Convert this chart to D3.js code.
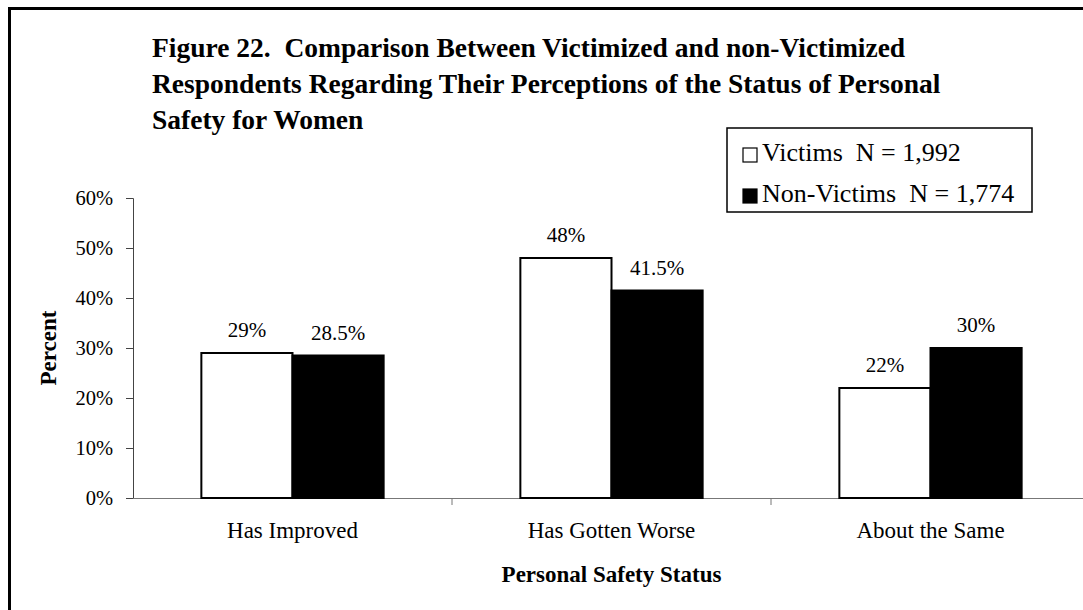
<!DOCTYPE html>
<html>
<head>
<meta charset="utf-8">
<script src="https://cdn.jsdelivr.net/npm/d3@7"></script>
<style>
  body { margin: 0; background: #fff; }
  svg text { font-family: "Liberation Serif", "Times New Roman", serif; fill: #000; white-space: pre; }
</style>
</head>
<body>
<div id="d3-container"></div>
<script>
/* CONSTANTS AND GLOBALS */
const width = 1083,
  height = 610,
  margin = { top: 198, bottom: 112, left: 133, right: -7 };

// data
const categories = ["Has Improved", "Has Gotten Worse", "About the Same"];
const seriesNames = ["Victims", "Non-Victims"];
const legendLabels = ["Victims  N = 1,992", "Non-Victims  N = 1,774"];
const victims = [29, 48, 22];
const nonVictims = [28.5, 41.5, 30];
const valueLabels = [["29%", "48%", "22%"], ["28.5%", "41.5%", "30%"]];
const yTicks = [0, 10, 20, 30, 40, 50, 60];
const titleLines = [
  "Figure 22.  Comparison Between Victimized and non-Victimized",
  "Respondents Regarding Their Perceptions of the Status of Personal",
  "Safety for Women"
];

const fills = ["#fff", "#000"];

let svg, xScale, xInner, yScale;

function init() {
  svg = d3.select("#d3-container")
    .append("svg")
    .attr("width", width)
    .attr("height", height);

  // frame (only top and left edges show)
  svg.append("rect")
    .attr("x", 9.5).attr("y", 8.5)
    .attr("width", width + 20).attr("height", height + 20)
    .attr("fill", "none").attr("stroke", "#000").attr("stroke-width", 3);

  // + SCALES
  xScale = d3.scaleBand()
    .domain(categories)
    .range([margin.left, width - margin.right])
    .padding(0);

  xInner = d3.scaleBand()
    .domain(seriesNames)
    .range([0, xScale.bandwidth()])
    .paddingInner(0)
    .paddingOuter(0.75);

  yScale = d3.scaleLinear()
    .domain([0, 60])
    .range([height - margin.bottom, margin.top]);

  // + TITLE
  svg.append("g")
    .selectAll("text")
    .data(titleLines)
    .join("text")
    .attr("x", 152)
    .attr("y", (d, i) => 57 + i * 36)
    .attr("font-size", 27.5)
    .attr("font-weight", "bold")
    .text(d => d);

  // + AXES
  const yAxis = d3.axisLeft(yScale)
    .tickValues(yTicks)
    .tickSize(7)
    .tickPadding(13)
    .tickFormat(d => d + "%");

  const yG = svg.append("g")
    .attr("transform", `translate(${margin.left},0)`)
    .call(yAxis);
  yG.select(".domain").attr("stroke", "#444");
  yG.selectAll(".tick line").attr("stroke", "#444");
  yG.selectAll(".tick text")
    .attr("font-size", 20.5)
    .attr("font-family", "Liberation Serif, serif");

  const xAxis = d3.axisBottom(xScale)
    .tickValues([])
    .tickSizeOuter(0);

  const xG = svg.append("g")
    .attr("transform", `translate(0,${yScale(0)})`)
    .call(xAxis);
  xG.select(".domain").attr("stroke", "#777");

  // tick marks between categories
  xG.selectAll("line.sep")
    .data(categories.slice(1))
    .join("line")
    .attr("class", "sep")
    .attr("x1", d => xScale(d)).attr("x2", d => xScale(d))
    .attr("y1", 0).attr("y2", 7)
    .attr("stroke", "#777");

  // category labels
  svg.append("g")
    .selectAll("text")
    .data(categories)
    .join("text")
    .attr("x", d => xScale(d) + xScale.bandwidth() / 2)
    .attr("y", 538)
    .attr("text-anchor", "middle")
    .attr("font-size", 23)
    .text(d => d);

  // axis titles
  svg.append("text")
    .attr("x", xScale(categories[1]) + xScale.bandwidth() / 2)
    .attr("y", 582)
    .attr("text-anchor", "middle")
    .attr("font-size", 23)
    .attr("font-weight", "bold")
    .text("Personal Safety Status");

  svg.append("text")
    .attr("transform", `translate(56,${(yScale(0) + yScale(60)) / 2}) rotate(-90)`)
    .attr("text-anchor", "middle")
    .attr("font-size", 23)
    .attr("font-weight", "bold")
    .text("Percent");

  draw();
}

function draw() {
  const rows = categories.map((c, i) => ({
    category: c,
    values: [
      { series: seriesNames[0], value: victims[i], label: valueLabels[0][i], k: 0 },
      { series: seriesNames[1], value: nonVictims[i], label: valueLabels[1][i], k: 1 }
    ]
  }));

  const groups = svg.append("g")
    .selectAll("g")
    .data(rows)
    .join("g")
    .attr("transform", d => `translate(${xScale(d.category)},0)`);

  groups.selectAll("rect")
    .data(d => d.values)
    .join("rect")
    .attr("x", d => xInner(d.series))
    .attr("y", d => yScale(d.value))
    .attr("width", xInner.bandwidth())
    .attr("height", d => yScale(0) - yScale(d.value))
    .attr("fill", d => fills[d.k])
    .attr("stroke", "#000")
    .attr("stroke-width", 2);

  groups.selectAll("text")
    .data(d => d.values)
    .join("text")
    .attr("x", d => xInner(d.series) + xInner.bandwidth() / 2)
    .attr("y", d => yScale(d.value) - 16)
    .attr("text-anchor", "middle")
    .attr("font-size", 21)
    .text(d => d.label);

  // + LEGEND
  const legend = svg.append("g").attr("transform", "translate(727,128)");
  legend.append("rect")
    .attr("width", 305).attr("height", 84)
    .attr("fill", "#fff").attr("stroke", "#000").attr("stroke-width", 1.5);

  const item = legend.selectAll("g.item")
    .data(legendLabels)
    .join("g")
    .attr("class", "item")
    .attr("transform", (d, i) => `translate(16,${20 + i * 41})`);

  item.append("rect")
    .attr("width", 14).attr("height", 14)
    .attr("fill", (d, i) => fills[i])
    .attr("stroke", "#000").attr("stroke-width", 1.2);

  item.append("text")
    .attr("x", 19)
    .attr("y", 13)
    .attr("font-size", 26)
    .text(d => d);
}

init();
</script>
</body>
</html>
